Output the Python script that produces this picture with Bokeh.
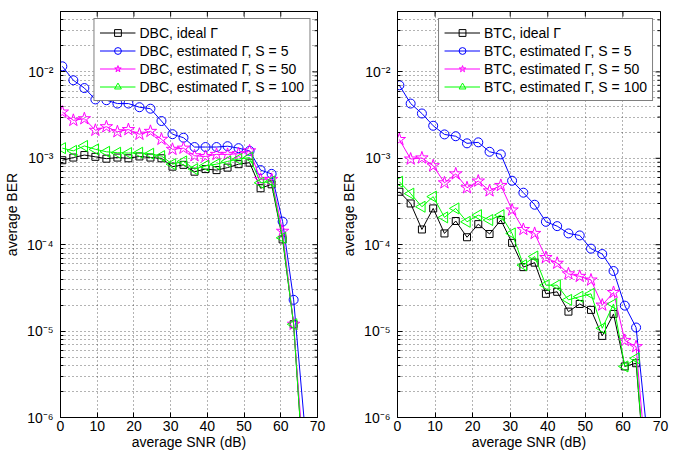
import math
from bokeh.plotting import figure
from bokeh.layouts import row
from bokeh.models import (CustomJSTickFormatter, FixedTicker, Legend, LegendItem, Range1d)
from bokeh.embed import file_html
from bokeh.resources import INLINE

# ---------------- data ----------------
snr_db = [0.5, 3.5, 6.5, 9.5, 12.5, 15.5, 18.5, 21.5, 24.5, 27.5, 30.5, 33.5,
          36.5, 39.5, 42.5, 45.5, 48.5, 51.5, 54.5, 57.5, 60.5, 63.5, 66.5]

dbc_ideal = [9.5e-4, 1.02e-3, 1.09e-3, 1.04e-3, 9.9e-4, 1.02e-3, 1.0e-3, 1.05e-3,
             1.02e-3, 1.0e-3, 8.0e-4, 8.4e-4, 7.0e-4, 7.5e-4, 7.3e-4, 7.8e-4,
             8.55e-4, 8.9e-4, 4.5e-4, 5.0e-4, 1.15e-4, 1.2e-5, 1.5e-7]
dbc_s5 = [1.16e-2, 8.0e-3, 6.5e-3, 4.8e-3, 4.7e-3, 4.3e-3, 4.3e-3, 3.9e-3,
          3.75e-3, 2.7e-3, 1.9e-3, 1.73e-3, 1.35e-3, 1.35e-3, 1.35e-3, 1.38e-3,
          1.31e-3, 1.22e-3, 7.3e-4, 6.6e-4, 1.85e-4, 2.3e-5, 8e-7]
dbc_s50 = [3.43e-3, 2.75e-3, 2.87e-3, 2.11e-3, 2.32e-3, 2.03e-3, 2.15e-3, 1.9e-3,
           2.05e-3, 1.66e-3, 1.27e-3, 1.31e-3, 1.07e-3, 1.05e-3, 1.11e-3, 1.11e-3,
           1.13e-3, 1.22e-3, 5.7e-4, 5.7e-4, 1.43e-4, 1.2e-5, 2.3e-7]
dbc_s100 = [1.31e-3, 1.22e-3, 1.39e-3, 1.27e-3, 1.19e-3, 1.16e-3, 1.15e-3, 1.16e-3,
            1.13e-3, 1.06e-3, 8.55e-4, 9.2e-4, 7.5e-4, 8.2e-4, 8.55e-4, 9.2e-4,
            9.8e-4, 1.02e-3, 5.2e-4, 5.4e-4, 1.2e-4, 1.2e-5, 1.5e-7]

btc_ideal = [4.1e-4, 3.0e-4, 1.5e-4, 2.63e-4, 1.35e-4, 1.88e-4, 1.22e-4, 1.73e-4,
             1.33e-4, 1.93e-4, 1.05e-4, 5.5e-5, 6.2e-5, 2.7e-5, 2.85e-5, 1.68e-5,
             2.06e-5, 1.76e-5, 8.8e-6, 1.58e-5, 3.9e-6, 4.25e-6, 1.1e-7]
btc_s5 = [7.0e-3, 4.3e-3, 3.3e-3, 2.38e-3, 1.89e-3, 1.8e-3, 1.49e-3, 1.53e-3,
          1.19e-3, 1.11e-3, 5.5e-4, 4.0e-4, 2.9e-4, 1.84e-4, 1.64e-4, 1.35e-4,
          1.28e-4, 9.0e-5, 7.8e-5, 4.96e-5, 1.97e-5, 1.1e-5, 6e-7]
btc_s50 = [1.65e-3, 9.8e-4, 1.01e-3, 8.2e-4, 5.2e-4, 6.6e-4, 4.56e-4, 5.45e-4,
           4.2e-4, 4.85e-4, 2.52e-4, 1.5e-4, 1.35e-4, 7.1e-5, 6.1e-5, 4.6e-5,
           4.3e-5, 3.9e-5, 2.0e-5, 2.8e-5, 7.8e-6, 6.6e-6, 2e-7]
btc_s100 = [5.35e-4, 3.9e-4, 2.75e-4, 3.6e-4, 2.07e-4, 2.63e-4, 1.84e-4, 2.2e-4,
            1.93e-4, 2.2e-4, 1.35e-4, 5.8e-5, 7.3e-5, 3.4e-5, 3.4e-5, 2.3e-5,
            2.5e-5, 2.7e-5, 1.08e-5, 2.06e-5, 3.9e-6, 4.85e-6, 1e-7]

x_ticks = [0, 10, 20, 30, 40, 50, 60, 70]
y_major = [1e-6, 1e-5, 1e-4, 1e-3, 1e-2]
y_minor = [m * 10.0 ** e for e in range(-6, -1) for m in range(2, 10)]
X_MIN, X_MAX = 0, 70
Y_MIN, Y_MAX = 1e-6, 0.05

FONT = "Liberation Sans"
SUP_CODE = """
const s = {"-":"\u207b","0":"\u2070","1":"\u00b9","2":"\u00b2","3":"\u00b3","4":"\u2074",
           "5":"\u2075","6":"\u2076","7":"\u2077","8":"\u2078","9":"\u2079"};
const e = Math.round(Math.log10(tick));
return "10" + String(e).split("").map(c => s[c]).join("");
"""

STYLES = [
    dict(color="#000000", marker="square", size=7, angle=0.0),
    dict(color="#0000ff", marker="circle", size=9, angle=0.0),
    dict(color="#ff00ff", marker="star", size=13, angle=0.0),
    dict(color="#00ff00", marker="triangle", size=11, angle=math.pi / 2),
]


def make_plot(prefix, series, width, border_left, border_right):
    p = figure(width=width, height=452, y_axis_type="log",
               x_range=Range1d(X_MIN, X_MAX), y_range=Range1d(Y_MIN, Y_MAX),
               output_backend="svg", toolbar_location=None,
               min_border_left=border_left, min_border_right=border_right,
               min_border_top=11, min_border_bottom=34)
    p.outline_line_color = "black"
    p.outline_line_width = 1
    p.background_fill_color = "white"

    p.xaxis.ticker = FixedTicker(ticks=x_ticks, minor_ticks=[])
    p.yaxis.ticker = FixedTicker(ticks=y_major, minor_ticks=y_minor)
    p.yaxis.formatter = CustomJSTickFormatter(code=SUP_CODE)
    for ax in (p.xaxis[0], p.yaxis[0]):
        ax.axis_line_color = "black"
        ax.major_tick_in = 5
        ax.major_tick_out = 0
        ax.minor_tick_in = 3
        ax.minor_tick_out = 0
        ax.major_label_text_font = FONT
        ax.major_label_text_font_size = "14px"
        ax.major_label_text_color = "black"
        ax.axis_label_text_font = FONT
        ax.axis_label_text_font_size = "14px"
        ax.axis_label_text_font_style = "normal"
        ax.axis_label_text_color = "black"
        ax.axis_label_standoff = 4
        ax.major_label_standoff = 7
    p.xaxis.axis_label = "average SNR (dB)"
    p.xaxis.axis_label_standoff = 0
    p.xaxis.major_label_standoff = 3
    p.yaxis.axis_label = "average BER"

    # box ticks along the top and right edges (half of each dash is clipped)
    p.scatter([X_MAX] * len(y_major), y_major, marker="dash", size=10,
              line_color="black", line_width=1)
    p.scatter([X_MAX] * len(y_minor), y_minor, marker="dash", size=6,
              line_color="black", line_width=1)
    p.scatter(x_ticks, [Y_MAX] * len(x_ticks), marker="dash", size=10,
              angle=math.pi / 2, line_color="black", line_width=1)

    for g in (p.xgrid, p.ygrid):
        g.grid_line_color = "#333333"
        g.grid_line_dash = "1 3"
        g.grid_line_alpha = 0.75
    p.ygrid.minor_grid_line_color = "#333333"
    p.ygrid.minor_grid_line_dash = "1 3"
    p.ygrid.minor_grid_line_alpha = 0.75

    labels = [f"{prefix}, ideal \u0393",
              f"{prefix}, estimated \u0393, S = 5",
              f"{prefix}, estimated \u0393, S = 50",
              f"{prefix}, estimated \u0393, S = 100"]
    items = []
    for ys, st, lab in zip(series, STYLES, labels):
        ln = p.line(snr_db, ys, line_color=st["color"], line_width=1)
        sc = p.scatter(snr_db[:-1], ys[:-1], marker=st["marker"], size=st["size"],
                       angle=st["angle"], angle_units="rad",
                       line_color=st["color"], line_width=1, fill_color=None)
        items.append(LegendItem(label=lab, renderers=[ln, sc]))
    leg = Legend(items=items, location="top_right", margin=7,
                 border_line_color="black", border_line_width=1,
                 background_fill_color="white", background_fill_alpha=1.0,
                 label_text_font=FONT, label_text_font_size="14px",
                 label_text_color="black",
                 glyph_width=36, glyph_height=17, label_height=17,
                 label_standoff=4, spacing=1, padding=5)
    p.add_layout(leg)
    return p


p1 = make_plot("DBC", [dbc_ideal, dbc_s5, dbc_s50, dbc_s100], 327, 60, 10)
p2 = make_plot("BTC", [btc_ideal, btc_s5, btc_s50, btc_s100], 346, 70, 13)

layout = row(p1, p2)
open("out.html", "w").write(file_html(layout, INLINE))
